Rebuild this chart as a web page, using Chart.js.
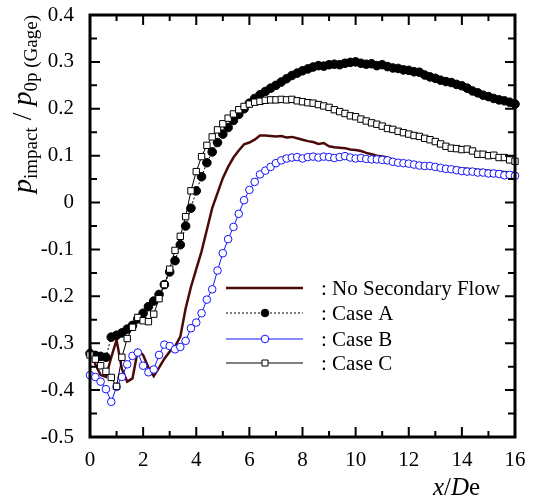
<!DOCTYPE html>
<html>
<head>
<meta charset="utf-8">
<script src="https://cdn.jsdelivr.net/npm/chart.js@4.4.1/dist/chart.umd.min.js"></script>
<style>
  html, body { margin: 0; padding: 0; background: #fff; }
  #wrap { width: 535px; height: 499px; }
</style>
</head>
<body>
<div id="wrap"><canvas id="grafico"></canvas></div>
<script>
// x/De positions of the measured stations
const xPos = [0, 0.2, 0.4, 0.6, 0.8, 1, 1.2, 1.4, 1.6, 1.8, 2, 2.2, 2.4, 2.6, 2.8, 3, 3.2, 3.4, 3.6, 3.8,
    4, 4.2, 4.4, 4.6, 4.8, 5, 5.2, 5.4, 5.6, 5.8, 6, 6.2, 6.4, 6.6, 6.8, 7, 7.2, 7.4, 7.6, 7.8,
    8, 8.2, 8.4, 8.6, 8.8, 9, 9.2, 9.4, 9.6, 9.8, 10, 10.2, 10.4, 10.6, 10.8, 11, 11.2, 11.4, 11.6, 11.8,
    12, 12.2, 12.4, 12.6, 12.8, 13, 13.2, 13.4, 13.6, 13.8, 14, 14.2, 14.4, 14.6, 14.8, 15, 15.2, 15.4, 15.6, 15.8, 16];

const semFluxo = [-0.308, -0.345, -0.368, -0.372, -0.330, -0.293, -0.355, -0.382, -0.375, -0.315,
    -0.325, -0.352, -0.370, -0.352, -0.333, -0.318, -0.307, -0.286, -0.226, -0.180,
    -0.142, -0.104, -0.058, -0.012, 0.020, 0.052, 0.076, 0.096, 0.111, 0.124,
    0.128, 0.134, 0.143, 0.143, 0.142, 0.141, 0.142, 0.139, 0.140, 0.137,
    0.134, 0.131, 0.129, 0.125, 0.127, 0.120, 0.118, 0.117, 0.116, 0.113,
    0.112, 0.110, 0.106, 0.103, 0.100, 0.098, 0.096, 0.092, 0.088, 0.087,
    0.085, 0.084, 0.082, 0.081, 0.080, 0.079, 0.078, 0.076, 0.075, 0.074,
    0.073, 0.072, 0.071, 0.070, 0.069, 0.068, 0.067, 0.066, 0.065, 0.064, 0.063];

const casoA = [-0.322, -0.326, -0.328, -0.330, -0.287, -0.283, -0.278, -0.270, -0.262, -0.248,
    -0.236, -0.222, -0.210, -0.196, -0.175, -0.148, -0.124, -0.090, -0.050, -0.012,
    0.025, 0.055, 0.085, 0.108, 0.128, 0.146, 0.160, 0.175, 0.188, 0.200,
    0.212, 0.222, 0.230, 0.237, 0.244, 0.250, 0.257, 0.264, 0.271, 0.276,
    0.281, 0.285, 0.289, 0.292, 0.291, 0.294, 0.295, 0.294, 0.297, 0.299,
    0.300, 0.297, 0.295, 0.296, 0.292, 0.294, 0.290, 0.287, 0.286, 0.283,
    0.282, 0.279, 0.278, 0.272, 0.268, 0.265, 0.261, 0.258, 0.256, 0.252,
    0.249, 0.244, 0.238, 0.234, 0.229, 0.226, 0.222, 0.219, 0.217, 0.214, 0.210];

const casoB = [-0.368, -0.372, -0.382, -0.398, -0.425, -0.393, -0.372, -0.345, -0.327, -0.320,
    -0.348, -0.362, -0.356, -0.325, -0.303, -0.306, -0.313, -0.308, -0.295, -0.268,
    -0.256, -0.236, -0.207, -0.185, -0.145, -0.108, -0.078, -0.052, -0.024, 0.005,
    0.027, 0.044, 0.060, 0.068, 0.076, 0.084, 0.090, 0.094, 0.096, 0.097,
    0.094, 0.097, 0.098, 0.096, 0.098, 0.097, 0.095, 0.097, 0.099, 0.096,
    0.094, 0.095, 0.093, 0.092, 0.092, 0.091, 0.090, 0.087, 0.085, 0.084,
    0.083, 0.081, 0.079, 0.078, 0.078, 0.076, 0.074, 0.072, 0.071, 0.069,
    0.067, 0.066, 0.066, 0.064, 0.064, 0.062, 0.062, 0.061, 0.058, 0.059, 0.057];

const casoC = [-0.325, -0.334, -0.348, -0.360, -0.373, -0.392, -0.330, -0.290, -0.266, -0.245,
    -0.252, -0.254, -0.238, -0.205, -0.175, -0.142, -0.102, -0.072, -0.030, 0.025,
    0.066, 0.098, 0.122, 0.140, 0.155, 0.168, 0.180, 0.189, 0.198, 0.205,
    0.210, 0.214, 0.216, 0.218, 0.219, 0.219, 0.220, 0.219, 0.220, 0.217,
    0.215, 0.213, 0.212, 0.209, 0.206, 0.203, 0.198, 0.194, 0.190, 0.185,
    0.183, 0.178, 0.174, 0.170, 0.167, 0.163, 0.158, 0.156, 0.152, 0.149,
    0.146, 0.143, 0.141, 0.137, 0.134, 0.130, 0.125, 0.120, 0.116, 0.115,
    0.113, 0.114, 0.110, 0.103, 0.103, 0.100, 0.101, 0.096, 0.096, 0.091, 0.088];

const legendas = [': No Secondary Flow', ': Case A', ': Case B', ': Case C'];
const xTicks = [0, 2, 4, 6, 8, 10, 12, 14, 16];
const yTicks = [0.4, 0.3, 0.2, 0.1, 0, -0.1, -0.2, -0.3, -0.4, -0.5];

const SERIF = '"Liberation Serif", "Times New Roman", serif';

function pontos(valores) {
    return xPos.map((x, i) => ({ x: x, y: valores[i] }));
}

// Estilos das séries (na ordem da legenda)
const estilos = [
    { cor: 'rgb(75,10,10)', larg: 2.5, dash: [], ponto: false, forma: 'circle', fundo: 'rgb(75,10,10)', raio: 0 },
    { cor: '#000', larg: 1, dash: [2, 2], ponto: true, forma: 'circle', fundo: '#000', raio: 4.3 },
    { cor: 'rgb(20,20,255)', larg: 1, dash: [], ponto: true, forma: 'circle', fundo: '#fff', raio: 3.8 },
    { cor: '#000', larg: 1, dash: [], ponto: true, forma: 'rect', fundo: '#fff', raio: 4.5 }
];

const series = [semFluxo, casoA, casoB, casoC];

const datasets = series.map((s, i) => {
    const e = estilos[i];
    return {
        label: legendas[i],
        data: pontos(s),
        showLine: true,
        borderColor: e.cor,
        borderWidth: e.larg,
        borderDash: e.dash,
        pointRadius: e.raio,
        pointStyle: e.forma,
        pointBackgroundColor: e.fundo,
        pointBorderColor: e.cor,
        pointBorderWidth: 1,
        tension: 0,
        clip: false,
        order: 4 - i
    };
});

// Moldura, ticks internos, títulos e legenda
const moldura = {
    id: 'moldura',
    afterDraw(chart) {
        const ctx = chart.ctx;
        const a = chart.chartArea;
        const sx = chart.scales.x, sy = chart.scales.y;
        ctx.save();
        ctx.strokeStyle = '#000';
        ctx.lineWidth = 2;
        ctx.setLineDash([]);
        for (let v = 0; v <= 16; v++) {
            const px = sx.getPixelForValue(v);
            const len = v % 2 === 0 ? 10 : 6;
            ctx.beginPath();
            ctx.moveTo(px, a.bottom); ctx.lineTo(px, a.bottom - len);
            ctx.moveTo(px, a.top); ctx.lineTo(px, a.top + len);
            ctx.stroke();
        }
        for (let k = 0; k <= 18; k++) {
            const v = -0.5 + k * 0.05;
            const py = sy.getPixelForValue(v);
            const len = k % 2 === 0 ? 10 : 7;
            ctx.beginPath();
            ctx.moveTo(a.left, py); ctx.lineTo(a.left + len, py);
            ctx.moveTo(a.right, py); ctx.lineTo(a.right - len, py);
            ctx.stroke();
        }
        ctx.lineWidth = 3;
        ctx.strokeRect(a.left, a.top, a.right - a.left, a.bottom - a.top);

        // Título do eixo x
        ctx.fillStyle = '#000';
        ctx.textBaseline = 'alphabetic';
        ctx.textAlign = 'left';
        let x = 433;
        const partesX = [['x', 'italic '], ['/', ''], ['D', 'italic '], ['e', '']];
        partesX.forEach(p => {
            ctx.font = p[1] + '25px ' + SERIF;
            ctx.fillText(p[0], x, 495);
            x += ctx.measureText(p[0]).width;
        });

        // Título do eixo y (rotacionado)
        ctx.save();
        ctx.translate(31, 193);
        ctx.rotate(-Math.PI / 2);
        let t = 0;
        const partesY = [
            ['p', 'italic 28px ', 0],
            ['impact', '19px ', 6],
            [' / ', '28px ', 0],
            ['p', 'italic 28px ', 0],
            ['0p (Gage)', '19px ', 6]
        ];
        partesY.forEach(p => {
            ctx.font = p[1] + SERIF;
            ctx.fillText(p[0], t, p[2]);
            t += ctx.measureText(p[0]).width;
        });
        ctx.restore();

        // Legenda
        const linhasY = [288, 313, 339, 363];
        estilos.forEach((e, i) => {
            const y = linhasY[i];
            ctx.strokeStyle = e.cor;
            ctx.lineWidth = e.larg;
            ctx.setLineDash(e.dash);
            ctx.beginPath();
            ctx.moveTo(226, y); ctx.lineTo(303, y);
            ctx.stroke();
            ctx.setLineDash([]);
            if (e.ponto) {
                ctx.lineWidth = 1;
                ctx.fillStyle = e.fundo;
                ctx.beginPath();
                if (e.forma === 'rect') {
                    ctx.rect(265 - 3, y - 3, 6, 6);
                } else {
                    ctx.arc(265, y, 3.8, 0, Math.PI * 2);
                }
                ctx.fill();
                ctx.stroke();
            }
            ctx.fillStyle = '#000';
            ctx.font = '21px ' + SERIF;
            ctx.textBaseline = 'middle';
            ctx.fillText(legendas[i], 321, y + 1);
        });
        ctx.restore();
    }
};

new Chart(document.getElementById('grafico'), {
    type: 'scatter',
    data: { datasets: datasets },
    options: {
        responsive: true,
        maintainAspectRatio: false,
        animation: false,
        layout: { padding: { left: 0, right: 20, top: 15, bottom: 0 } },
        plugins: {
            legend: { display: false },
            tooltip: { enabled: false }
        },
        scales: {
            x: {
                type: 'linear',
                min: 0,
                max: 16,
                afterBuildTicks: s => { s.ticks = xTicks.map(v => ({ value: v })); },
                afterFit: s => { s.height = 62; s.paddingLeft = 0; s.paddingRight = 0; },
                grid: { display: false },
                border: { display: false },
                ticks: {
                    color: '#000',
                    padding: 3,
                    maxRotation: 0,
                    font: { family: SERIF, size: 21 },
                    callback: v => String(v)
                }
            },
            y: {
                type: 'linear',
                min: -0.5,
                max: 0.4,
                afterBuildTicks: s => { s.ticks = yTicks.map(v => ({ value: v })); },
                afterFit: s => { s.width = 90; s.paddingTop = 0; s.paddingBottom = 0; },
                grid: { display: false },
                border: { display: false },
                ticks: {
                    color: '#000',
                    padding: 8,
                    font: { family: SERIF, size: 21 },
                    callback: v => (Math.abs(v) < 1e-9 ? '0' : String(Math.round(v * 10) / 10))
                }
            }
        }
    },
    plugins: [moldura]
});
</script>
</body>
</html>
